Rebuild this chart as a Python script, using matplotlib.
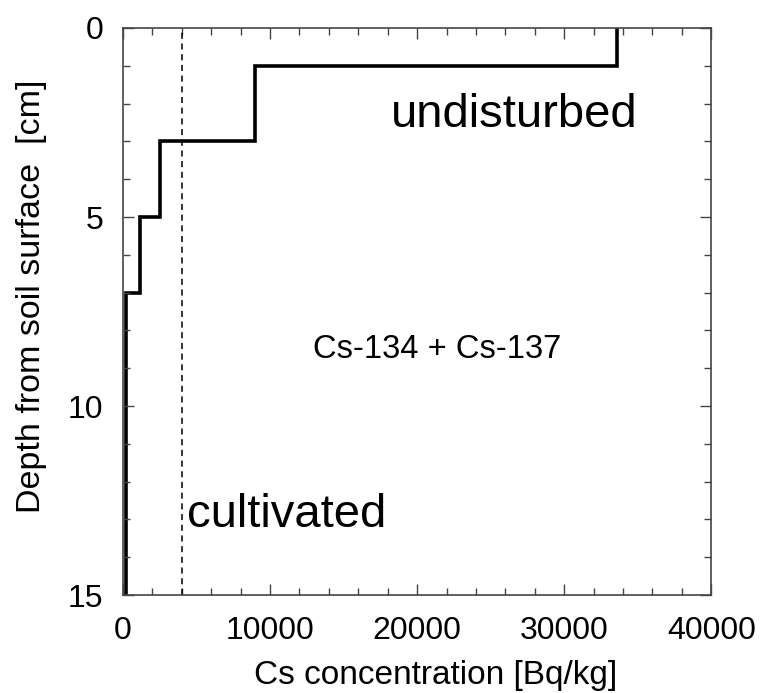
import matplotlib.pyplot as plt
from matplotlib.ticker import MultipleLocator

plt.rcParams['font.family'] = ['Liberation Sans', 'DejaVu Sans']

# layer boundaries [cm] and Cs concentration per layer [Bq/kg]
depth_edges = [0, 1, 3, 5, 7, 15]
conc = [33600, 9000, 2500, 1150, 200]
cultivated_level = 4000  # uniform profile after mixing

fig = plt.figure(figsize=(7.64, 6.93), dpi=100)
ax = fig.add_axes([0.161, 0.1414, 0.77, 0.8182])

ax.stairs(conc, depth_edges, orientation='horizontal', baseline=None,
          color='black', linewidth=2.6)
ax.axvline(cultivated_level, color='black', linestyle=(0, (4, 3)), linewidth=1.1)

ax.set_xlim(0, 40000)
ax.set_ylim(15, 0)
ax.xaxis.set_major_locator(MultipleLocator(10000))
ax.xaxis.set_minor_locator(MultipleLocator(2000))
ax.yaxis.set_major_locator(MultipleLocator(5))
ax.yaxis.set_minor_locator(MultipleLocator(1))
ax.tick_params(which='both', direction='in', top=True, right=True,
               color='#444444', width=1)
ax.tick_params(which='major', length=8, labelsize=23)
ax.tick_params(axis='x', which='major', pad=15)
ax.tick_params(axis='y', which='major', pad=14)
ax.tick_params(which='minor', length=5)
for s in ax.spines.values():
    s.set_color('#444444')
    s.set_linewidth(1.2)

ax.set_xlabel('Cs concentration [Bq/kg]', fontsize=24, labelpad=10)
ax.set_ylabel('Depth from soil surface  [cm]', fontsize=24.5, labelpad=15)
ax.xaxis.label.set_x(0.532)
ax.yaxis.label.set_y(0.526)

ax.text(18200, 2.62, 'undisturbed', fontsize=34, va='baseline')
ax.text(12900, 8.73, 'Cs-134 + Cs-137', fontsize=23.5, va='baseline')
ax.text(4350, 13.2, 'cultivated', fontsize=34, va='baseline')

fig.savefig('out.png', dpi=100)
